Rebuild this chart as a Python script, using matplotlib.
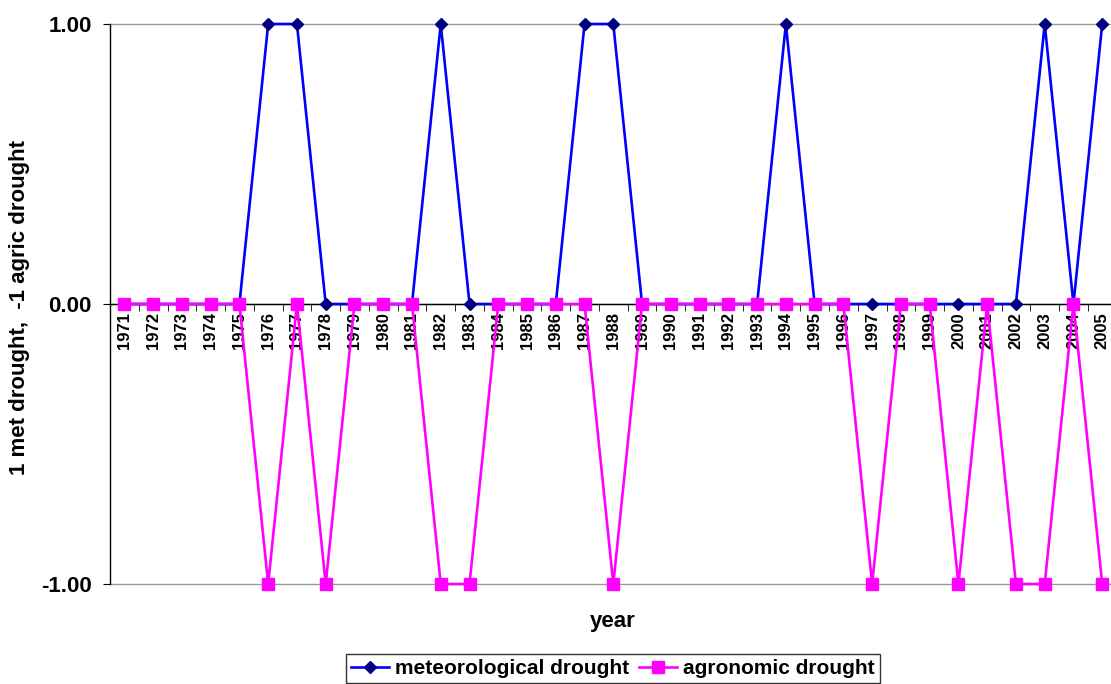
import matplotlib.pyplot as plt
from matplotlib.ticker import FixedLocator

years = list(range(1971, 2006))
met_drought = [0, 0, 0, 0, 0, 1, 1, 0, 0, 0,
               0, 1, 0, 0, 0, 0, 1, 1, 0, 0,
               0, 0, 0, 1, 0, 0, 0, 0, 0, 0,
               0, 0, 1, 0, 1]
agric_drought = [0, 0, 0, 0, 0, -1, 0, -1, 0, 0,
                 0, -1, -1, 0, 0, 0, 0, -1, 0, 0,
                 0, 0, 0, 0, 0, 0, -1, 0, 0, -1,
                 0, -1, -1, 0, -1]
y_ticks = [-1.0, 0.0, 1.0]

plt.rcParams['font.family'] = ['Liberation Sans', 'DejaVu Sans']
plt.rcParams['font.weight'] = 'bold'

fig = plt.figure(figsize=(11.11, 6.84), dpi=100)
ax = fig.add_axes([110 / 1111, 1 - 584 / 684, 1006.6 / 1111, 560 / 684])

x = list(range(len(years)))
ax.plot(x, met_drought, color='#0000FF', lw=1.9, marker='D', markersize=6.5,
        markerfacecolor='#000080', markeredgecolor='#000080',
        label='meteorological drought', zorder=3, clip_on=False)
ax.plot(x, agric_drought, color='#FF00FF', lw=1.9, marker='s', markersize=9,
        markerfacecolor='#FF00FF', markeredgecolor='#FF00FF',
        label='agronomic drought', zorder=4, clip_on=False)

ax.set_xlim(-0.5, len(years) - 0.5)
ax.set_ylim(-1, 1)
ax.set_yticks(y_ticks)
ax.set_yticklabels(['%.2f' % v for v in y_ticks], fontsize=16, fontweight='bold')
ax.yaxis.grid(True, color='#999999', lw=1)
for gl in ax.get_ygridlines():
    gl.set_clip_on(False)
ax.set_axisbelow(True)

ax.spines['bottom'].set_position(('data', 0))
ax.spines['top'].set_visible(False)
ax.spines['right'].set_visible(False)
ax.spines['left'].set_linewidth(1)
ax.spines['bottom'].set_linewidth(1)

ax.set_xticks(x)
ax.set_xticklabels([str(y) for y in years], rotation=90, fontsize=12, fontweight='bold')
ax.tick_params(axis='x', which='major', length=0, pad=6)
ax.xaxis.set_minor_locator(FixedLocator([i + 0.5 for i in range(-1, len(years))]))
ax.tick_params(axis='x', which='minor', length=5, direction='out')
ax.tick_params(axis='y', length=5, direction='out', pad=8)

fig.text(613 / 1111, 1 - 621 / 684, 'year', ha='center', va='center',
         fontsize=16, fontweight='bold')
fig.text(20 / 1111, 1 - 308 / 684, '1 met drought,  -1 agric drought', ha='center',
         va='center', rotation=90, fontsize=16, fontweight='bold')

leg = fig.legend(loc='upper center', bbox_to_anchor=(613 / 1111, 1 - 654 / 684),
                 ncol=2, fontsize=15, frameon=True, fancybox=False,
                 handlelength=1.8, columnspacing=0.5, handletextpad=0.3,
                 borderpad=0.25, borderaxespad=0)
leg.get_frame().set_edgecolor('black')
leg.get_frame().set_linewidth(1)
for t in leg.get_texts():
    t.set_fontweight('bold')

fig.savefig('out.png', dpi=100)
